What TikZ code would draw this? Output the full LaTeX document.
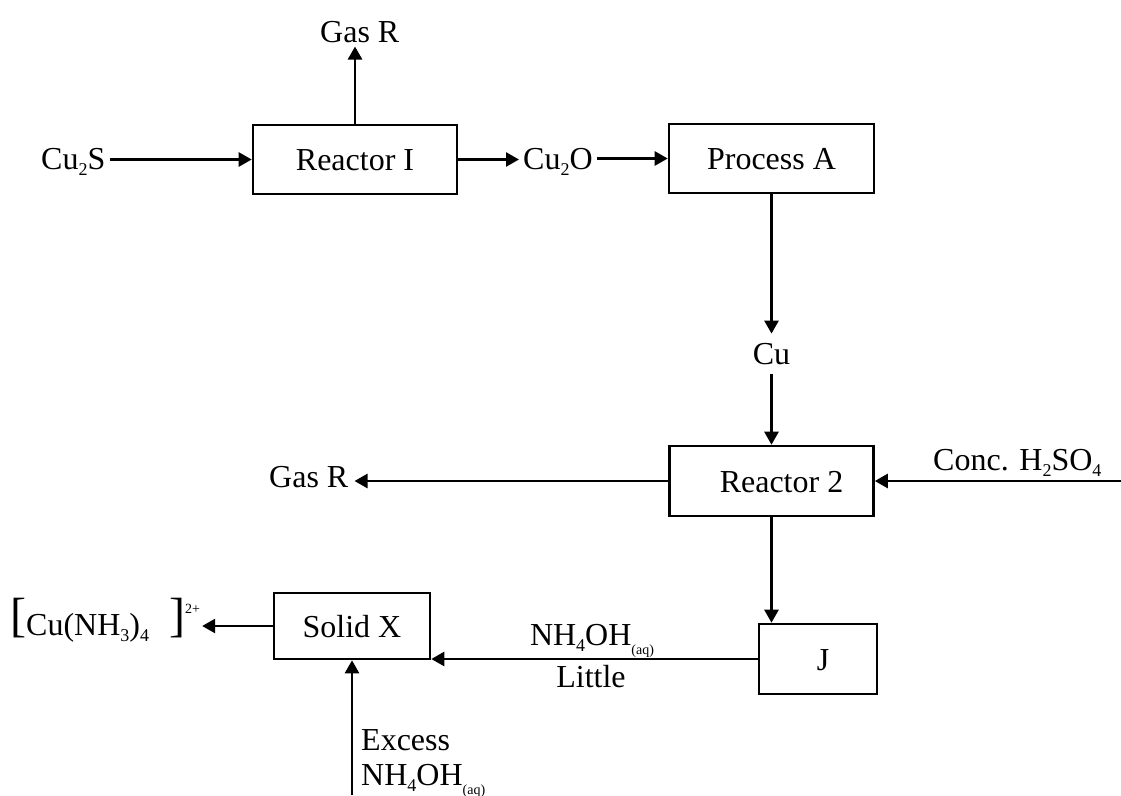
\documentclass[tikz,border=0pt]{standalone}
\usepackage{fontspec}
\setmainfont{Liberation Serif}
\usetikzlibrary{arrows.meta}
\newcommand{\sbs}[1]{\raisebox{-6pt}{\fontsize{18}{18}\selectfont #1}}
\newcommand{\aqs}{\raisebox{-9pt}{\fontsize{14}{14}\selectfont (aq)}}
\begin{document}
\begin{tikzpicture}[x=1pt,y=-1pt,
  font=\fontsize{32}{38}\selectfont,
  box/.style={draw, line width=2.6pt, inner sep=0pt, text height=22pt, text depth=0pt},
  lab/.style={inner sep=4pt, anchor=base west},
  arr/.style={line width=2.6pt, -{Triangle[length=13pt,width=14pt]}}]
\useasboundingbox (0,0) rectangle (1121,795);

% boxes
\node[box, minimum width=204pt, minimum height=69pt] (r1) at (355,159.5) {Reactor I};
\node[box, minimum width=205pt, minimum height=69pt] (pa) at (771.5,158.5) {Process A};
\node[box, minimum width=204pt, minimum height=70pt] (r2) at (771.5,481) {\hspace*{20pt}Reactor 2};
\node[box, minimum width=118pt, minimum height=70pt] (j) at (818,659) {\hspace*{10pt}J};
\node[box, minimum width=156pt, minimum height=66pt] (sx) at (352,626) {Solid X};

% labels
\node[lab] (gas1) at (316,42) {Gas R};
\node[lab] (cu2s) at (37,169) {Cu\sbs{2}S};
\node[lab] (cu2o) at (519,169) {Cu\sbs{2}O};
\node[inner xsep=0pt, inner ysep=9pt, anchor=base] (cu) at (771.5,364) {Cu};
\node[lab, inner xsep=6pt] (gas2) at (263,487) {Gas R};
\node[lab] (conc) at (929,470) {Conc. H\sbs{2}SO\sbs{4}};
\coordinate (concend) at (1121,481);
\node[inner sep=0pt, anchor=base] (nh) at (592,645) {NH\sbs{4}OH\aqs};
\node[inner sep=0pt, anchor=base] (little) at (591,687) {Little};
\node[inner sep=0pt, anchor=base west] (exc) at (361,750) {Excess};
\node[inner sep=0pt, anchor=base west] (exnh) at (361,785) {NH\sbs{4}OH\aqs};
\coordinate (exend) at (352,795);
\node[inner sep=2pt, anchor=base west] (cx) at (8,635)
  {\raisebox{4pt}{\fontsize{48}{48}\selectfont[}Cu(NH\sbs{3})\sbs{4}\hspace{20pt}\raisebox{4pt}{\fontsize{48}{48}\selectfont]}\raisebox{22pt}{\fontsize{14}{14}\selectfont 2+}};

% connectors
\draw[arr] (r1.west -| cu2s.east) -- (r1.west);
\draw[arr] (r1.north) -- (r1.north |- gas1.south);
\draw[arr] (r1.east) -- (r1.east -| cu2o.west);
\draw[arr] (pa.west -| cu2o.east) -- (pa.west);
\draw[arr] (pa.south) -- (pa.south |- cu.north);
\draw[arr] (cu.south) -- (cu.south |- r2.north);
\draw[arr] (r2.west) -- (r2.west -| gas2.east);
\draw[arr] (concend) -- (r2.east);
\draw[arr] (r2.south) -- (r2.south |- j.north);
\draw[arr] (j.west) -- (j.west -| sx.east);
\draw[arr] (exend) -- (sx.south);
\draw[arr] (sx.west) -- (sx.west -| cx.east);
\end{tikzpicture}
\end{document}
